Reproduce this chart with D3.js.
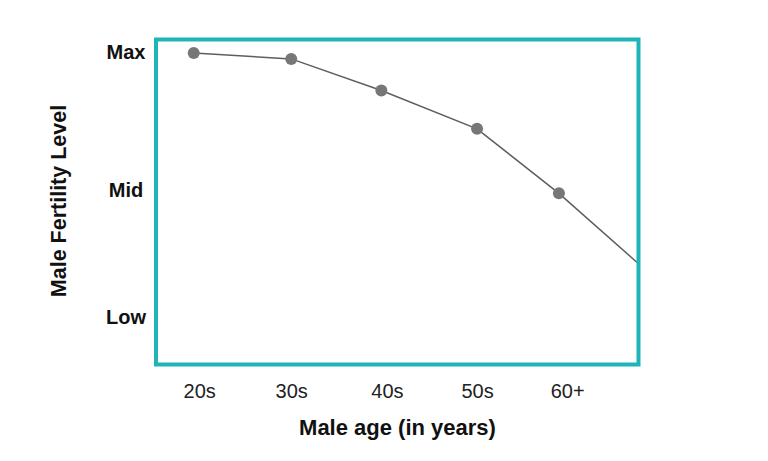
<!DOCTYPE html>
<html>
<head>
<meta charset="utf-8">
<script src="https://cdn.jsdelivr.net/npm/d3@7/dist/d3.min.js"></script>
<style>
  html, body { margin: 0; padding: 0; background: #fff; }
  svg { display: block; }
  text { font-family: "Liberation Sans", Arial, Helvetica, sans-serif; }
</style>
</head>
<body>
<svg id="chart" width="768" height="461"></svg>
<script>
// Data
const ages = [24.4, 35, 44.8, 55.2, 64.1, 72.6];
const levels = [99.4, 97.2, 85.3, 70.9, 46.6, 20.6];
const markerCount = 5; // last point is just the line continuing to the frame edge
const xTickValues = [25, 35, 45.4, 55.2, 65];
const xTickLabels = ["20s", "30s", "40s", "50s", "60+"];
const yTickValues = [0, 48, 100];
const yTickLabels = ["Low", "Mid", "Max"];

const svg = d3.select("#chart");
const frame = { left: 156, right: 638.5, top: 39.5, bottom: 364.5 };

const x = d3.scaleLinear().domain([20.3, 72.75]).range([frame.left, frame.right]);
const y = d3.scaleLinear().domain([-17.8, 104.5]).range([frame.bottom, frame.top]);

const pts = ages.map((a, i) => ({ age: a, level: levels[i] }));

svg.append("clipPath").attr("id", "clip")
  .append("rect")
  .attr("x", frame.left).attr("y", frame.top)
  .attr("width", frame.right - frame.left).attr("height", frame.bottom - frame.top);

const g = svg.append("g").attr("clip-path", "url(#clip)");

g.append("path")
  .datum(pts)
  .attr("fill", "none")
  .attr("stroke", "#5e5e5e")
  .attr("stroke-width", 1.5)
  .attr("d", d3.line().x(d => x(d.age)).y(d => y(d.level)));

g.selectAll("circle")
  .data(pts.slice(0, markerCount))
  .join("circle")
  .attr("cx", d => x(d.age))
  .attr("cy", d => y(d.level))
  .attr("r", 6)
  .attr("fill", "#777777");

// Frame
svg.append("rect")
  .attr("x", frame.left).attr("y", frame.top)
  .attr("width", frame.right - frame.left).attr("height", frame.bottom - frame.top)
  .attr("fill", "none")
  .attr("stroke", "#1fb5b8")
  .attr("stroke-width", 4);

// X axis ticks (labels only)
const xAxis = d3.axisBottom(x)
  .tickValues(xTickValues)
  .tickFormat((d, i) => xTickLabels[i])
  .tickSize(0)
  .tickPadding(0);
const xg = svg.append("g").attr("transform", "translate(0,384)").call(xAxis);
xg.select(".domain").remove();
xg.selectAll("text")
  .attr("font-family", "'Liberation Sans', Arial, sans-serif")
  .attr("font-size", 20)
  .attr("fill", "#222")
  .attr("dy", "0.68em");

// Y axis ticks (labels only, centered)
const yAxis = d3.axisLeft(y)
  .tickValues(yTickValues)
  .tickFormat((d, i) => yTickLabels[i])
  .tickSize(0)
  .tickPadding(0);
const yg = svg.append("g").attr("transform", "translate(126,0)").call(yAxis);
yg.select(".domain").remove();
yg.selectAll("text")
  .attr("font-family", "'Liberation Sans', Arial, sans-serif")
  .attr("font-size", 20)
  .attr("font-weight", "bold")
  .attr("fill", "#111")
  .attr("text-anchor", "middle")
  .attr("dy", "0.33em");

// Axis titles
svg.append("text")
  .attr("x", 397.5).attr("y", 435)
  .attr("text-anchor", "middle")
  .attr("font-size", 22)
  .attr("font-weight", "bold")
  .attr("fill", "#111")
  .text("Male age (in years)");

svg.append("text")
  .attr("transform", "translate(66,201) rotate(-90)")
  .attr("text-anchor", "middle")
  .attr("font-size", 21.5)
  .attr("font-weight", "bold")
  .attr("fill", "#111")
  .text("Male Fertility Level");
</script>
</body>
</html>
